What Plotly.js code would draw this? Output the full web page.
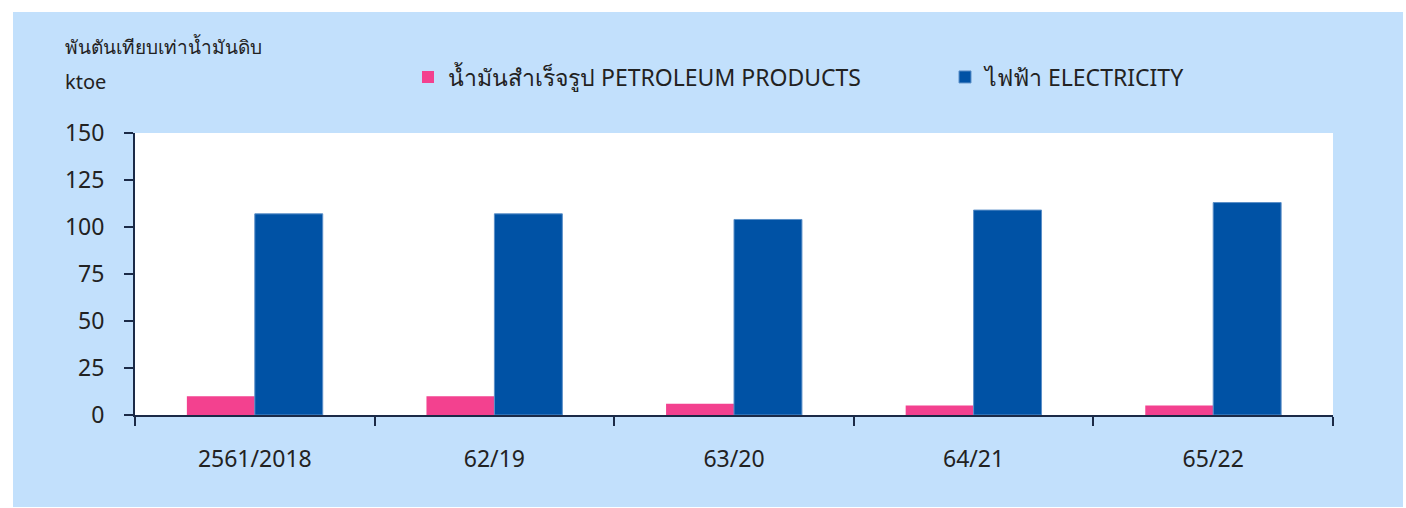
<!DOCTYPE html>
<html>
<head>
<meta charset="utf-8">
<script src="https://cdn.plot.ly/plotly-3.0.1.min.js"></script>
<style>
html,body{margin:0;padding:0;background:#ffffff;}
#chart{position:absolute;left:13px;top:12px;width:1390px;height:495px;}
</style>
</head>
<body>
<div id="chart"></div>
<script>
const categories = ["2561/2018", "62/19", "63/20", "64/21", "65/22"];
const petroleum = [10, 10, 6, 5, 5];
const electricity = [107, 107, 104, 109, 113];
const seriesNames = ["น้ำมันสำเร็จรูป PETROLEUM PRODUCTS", "ไฟฟ้า ELECTRICITY"];
const yTicks = [0, 25, 50, 75, 100, 125, 150];
const unitThai = "พันตันเทียบเท่าน้ำมันดิบ";
const unitEn = "ktoe";

const FONT = "Noto Sans, DejaVu Sans, sans-serif";
const AXIS = "#1b2a47";
const TXT = "#222222";

const data = [
  {type: "bar", x: categories, y: petroleum, name: seriesNames[0], legend: "legend",
   marker: {color: "#f3418f", line: {width: 0}}, hoverinfo: "y"},
  {type: "bar", x: categories, y: electricity, name: seriesNames[1], legend: "legend2",
   marker: {color: "#0052a5", line: {width: 1, color: "#5b8fc8"}}, hoverinfo: "y"}
];

const plotW = 1390 - 122 - 70, plotH = 495 - 121 - 92;
const px = v => (v - 13 - 122) / plotW;
const py = v => (415 - v) / plotH;

const legendBase = {
  orientation: "h", xanchor: "left", yanchor: "middle", y: py(77),
  bgcolor: "rgba(0,0,0,0)", borderwidth: 0,
  font: {family: FONT, size: 23, color: TXT}, itemclick: false
};

const layout = {
  width: 1390, height: 495,
  paper_bgcolor: "#c2e0fc",
  plot_bgcolor: "#ffffff",
  margin: {l: 122, r: 70, t: 121, b: 92},
  barmode: "group",
  bargap: 0.433,
  bargroupgap: 0,
  font: {family: FONT, size: 22, color: TXT},
  showlegend: true,
  legend: Object.assign({}, legendBase, {x: px(408)}),
  legend2: Object.assign({}, legendBase, {x: px(945)}),
  xaxis: {
    type: "category",
    showline: true, linecolor: AXIS, linewidth: 2,
    ticks: "outside", tickson: "boundaries", ticklen: 9, tickwidth: 2, tickcolor: AXIS,
    showgrid: false, zeroline: false,
    ticklabelstandoff: 22,
    tickfont: {family: FONT, size: 23, color: TXT},
    fixedrange: true
  },
  yaxis: {
    range: [0, 150], tickvals: yTicks, ticktext: yTicks.map(String),
    showline: true, linecolor: AXIS, linewidth: 2,
    ticks: "outside", ticklen: 9, tickwidth: 2, tickcolor: AXIS,
    showgrid: false, zeroline: false,
    ticklabelstandoff: 15,
    tickfont: {family: FONT, size: 23, color: TXT},
    fixedrange: true
  },
  annotations: [
    {xref: "paper", yref: "paper", x: px(63), y: py(47),
     xanchor: "left", yanchor: "middle",
     text: unitThai, showarrow: false, font: {family: FONT, size: 19, color: TXT}},
    {xref: "paper", yref: "paper", x: px(63), y: py(82),
     xanchor: "left", yanchor: "middle",
     text: unitEn, showarrow: false, font: {family: FONT, size: 20, color: TXT}}
  ]
};

Plotly.newPlot("chart", data, layout, {displayModeBar: false, staticPlot: true});
</script>
</body>
</html>
